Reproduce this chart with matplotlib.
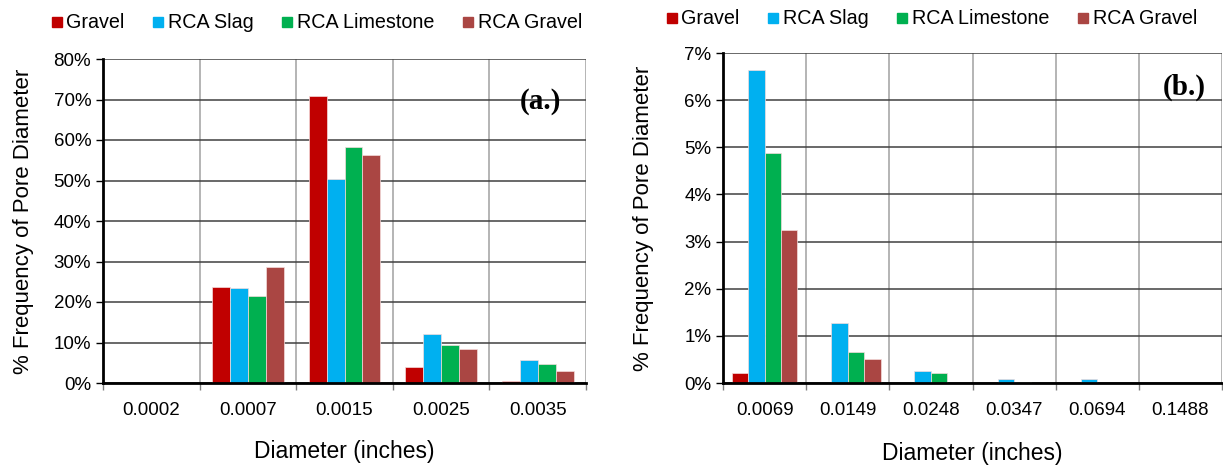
import matplotlib
matplotlib.use("Agg")
import matplotlib.pyplot as plt
import numpy as np
from matplotlib.lines import Line2D
from matplotlib.ticker import FuncFormatter, MultipleLocator

series = ["Gravel", "RCA Slag", "RCA Limestone", "RCA Gravel"]
colors = ["#C00000", "#00B0F0", "#00B050", "#AA4643"]

cats_a = ["0.0002", "0.0007", "0.0015", "0.0025", "0.0035"]
gravel_a = [0.0, 23.7, 70.9, 3.9, 0.6]
slag_a = [0.0, 23.4, 50.4, 12.0, 5.6]
lime_a = [0.0, 21.6, 58.3, 9.5, 4.6]
rcag_a = [0.0, 28.6, 56.3, 8.3, 3.0]

cats_b = ["0.0069", "0.0149", "0.0248", "0.0347", "0.0694", "0.1488"]
gravel_b = [0.22, 0.0, 0.0, 0.0, 0.0, 0.0]
slag_b = [6.64, 1.27, 0.26, 0.09, 0.09, 0.0]
lime_b = [4.88, 0.66, 0.21, 0.02, 0.0, 0.0]
rcag_b = [3.25, 0.50, 0.0, 0.0, 0.0, 0.0]

W, H = 1223, 467
fig = plt.figure(figsize=(W / 100, H / 100), dpi=100)
plt.rcParams['font.family'] = ['Liberation Sans', 'DejaVu Sans']


def px_axes(l, r, t, b):
    return fig.add_axes([l / W, 1 - b / H, (r - l) / W, (b - t) / H])


def draw(ax, cats, data, ymax, ystep, group_frac, label_tag, tag_xy, ylabelpad, xlabelpad):
    n = len(cats)
    x = np.arange(n)
    k = len(data)
    bw = group_frac / k
    for i, (vals, c) in enumerate(zip(data, colors)):
        ax.bar(x - group_frac / 2 + bw * (i + 0.5), vals, width=bw, color=c,
               edgecolor="#F4DCDC", linewidth=0.5, zorder=3, label=series[i])
    ax.set_xlim(-0.5, n - 0.5)
    ax.set_ylim(0, ymax)
    ax.yaxis.set_major_locator(MultipleLocator(ystep))
    ax.yaxis.set_major_formatter(FuncFormatter(lambda v, p: f"{v:.0f}%"))
    ax.set_xticks(x)
    ax.set_xticklabels(cats, fontsize=13.5)
    ax.set_xticks(np.arange(n + 1) - 0.5, minor=True)
    ax.tick_params(axis='x', which='major', length=0, pad=14)
    ax.tick_params(axis='x', which='minor', length=5, width=1, color='#808080', direction='out')
    ax.tick_params(axis='y', length=5, width=1, labelsize=13.5, direction='out', color='black')
    ax.grid(axis='y', color='#404040', linewidth=1.1, zorder=1)
    ax.grid(axis='x', which='minor', color='#A0A0A0', linewidth=1.1, zorder=1)
    for s in ['top', 'right']:
        ax.spines[s].set_visible(False)
    ax.spines['left'].set_linewidth(2)
    ax.spines['bottom'].set_linewidth(2)
    ax.spines['left'].set_zorder(4)
    ax.spines['bottom'].set_zorder(4)
    ax.set_xlabel("Diameter (inches)", fontsize=16.5, labelpad=xlabelpad)
    ax.set_ylabel("% Frequency of Pore Diameter", fontsize=16, labelpad=ylabelpad)
    ax.text(tag_xy[0], tag_xy[1], label_tag, transform=ax.transAxes,
            fontsize=21, fontweight='bold', family='Liberation Serif',
            ha='center', va='center')


ax1 = px_axes(103, 586, 59, 383)
draw(ax1, cats_a, [gravel_a, slag_a, lime_a, rcag_a], 80, 10, 0.745, "(a.)", (0.905, 0.87), 14, 15)

ax2 = px_axes(723, 1222, 53, 383)
draw(ax2, cats_b, [gravel_b, slag_b, lime_b, rcag_b], 7, 1, 0.79, "(b.)", (0.925, 0.895), 22, 16)

handles = [Line2D([], [], marker='s', linestyle='none', markersize=7.5,
                  markerfacecolor=c, markeredgecolor=c) for c in colors]
for cx, cy in [(317, 23), (932, 19)]:
    fig.legend(handles, series, loc='center', bbox_to_anchor=(cx / W, 1 - cy / H),
               ncol=4, frameon=False, fontsize=14.2, handlelength=0.5,
               handletextpad=0.25, columnspacing=1.45, borderaxespad=0)

fig.savefig("out.png", dpi=100)
